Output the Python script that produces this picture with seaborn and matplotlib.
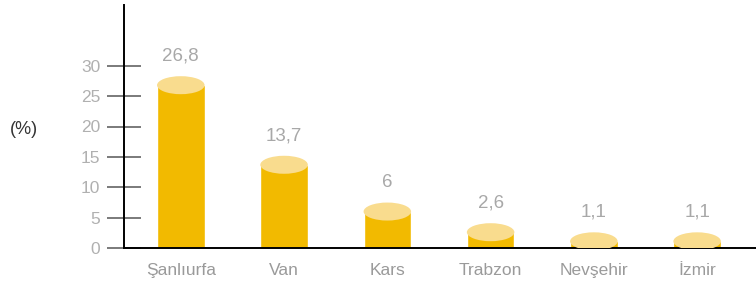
import numpy as np
import pandas as pd
import matplotlib
matplotlib.use("Agg")
import matplotlib.pyplot as plt
from matplotlib.patches import Ellipse
import seaborn as sns

# ── Data ───────────────────────────────────────────────────────────────────────
cities = ["Şanlıurfa", "Van", "Kars", "Trabzon", "Nevşehir", "İzmir"]
shares = [26.8, 13.7, 6.0, 2.6, 1.1, 1.1]
value_labels = ["26,8", "13,7", "6", "2,6", "1,1", "1,1"]
y_ticks = [0, 5, 10, 15, 20, 25, 30]

BODY = "#F2BA00"
TOP = "#F9DC8E"
GREY = "#A8A8A8"

sns.set_theme(style="white")
plt.rcParams["font.family"] = ["Liberation Sans", "DejaVu Sans"]

df = pd.DataFrame({"city": cities, "share": shares})

fig = plt.figure(figsize=(7.56, 2.86), dpi=100)
ax = fig.add_axes([124 / 756, 38 / 286, 1 - 124 / 756, 243 / 286])

sns.barplot(data=df, x="city", y="share", color=BODY, saturation=1,
            width=0.46, ax=ax)

# cylinder tops + value labels
px_per_unit = 243 / 40
for bar, lab in zip(ax.patches, value_labels):
    cx = bar.get_x() + bar.get_width() / 2
    h = bar.get_height()
    ax.add_patch(Ellipse((cx, h), bar.get_width(), 18 / px_per_unit,
                         facecolor=TOP, edgecolor="none", zorder=3))
    ax.text(cx, h + 29 / px_per_unit, lab, ha="center", va="center",
            fontsize=13.5, color=GREY)

ax.set_xlim(-0.55, 5.57)
ax.set_ylim(0, 40)
ax.set_yticks(y_ticks)
ax.set_xlabel("")
ax.set_ylabel("")

for s in ["top", "right"]:
    ax.spines[s].set_visible(False)
for s in ["left", "bottom"]:
    ax.spines[s].set_color("black")
    ax.spines[s].set_linewidth(1.4)

ax.tick_params(axis="y", left=True, direction="inout", length=24, width=1.3,
               color="#707070", labelsize=12.5, labelcolor="#B0B0B0", pad=5)
ax.tick_params(axis="x", bottom=False, length=0, labelsize=12.5,
               labelcolor="#9A9A9A", pad=11)

fig.text(24 / 756, 1 - 130 / 286, "(%)", ha="center", va="center",
         fontsize=13, color="#333333")

fig.savefig("out.png", dpi=100)
